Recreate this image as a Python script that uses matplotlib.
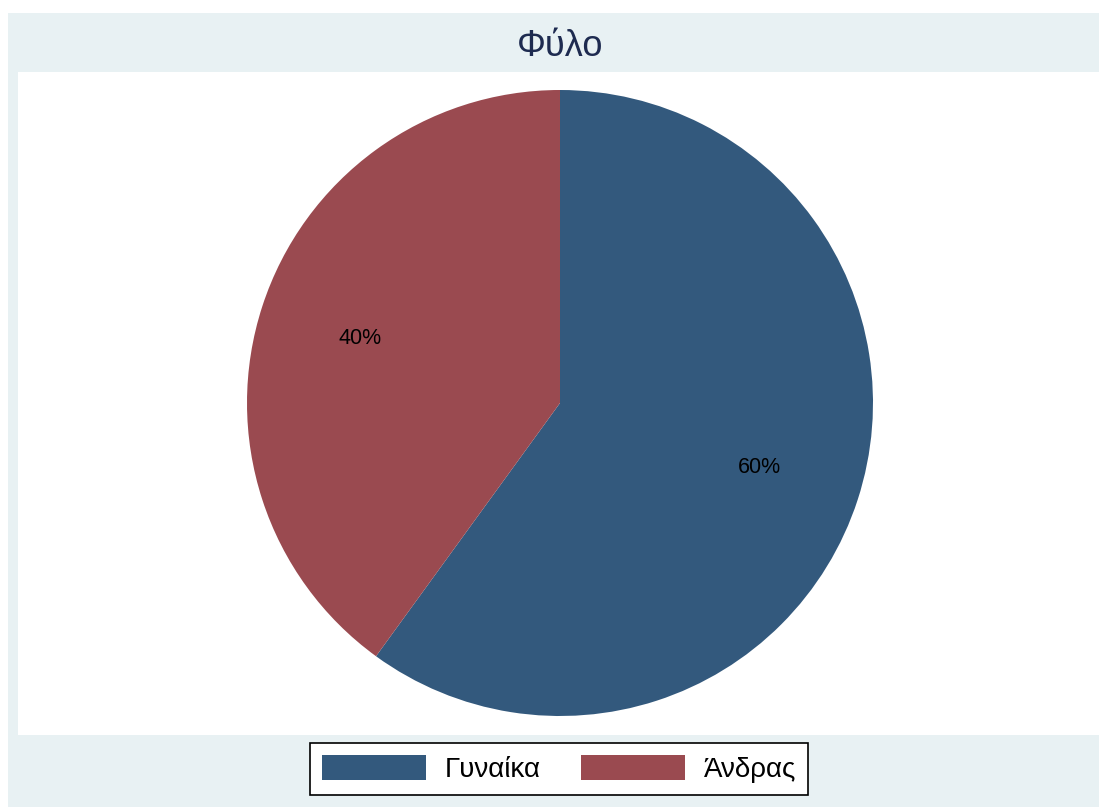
import matplotlib
matplotlib.use("Agg")
import matplotlib.pyplot as plt
from matplotlib.patches import Rectangle, Patch

# Φύλο - κατανομή δείγματος
labels = ["Γυναίκα", "Άνδρας"]
shares = [60, 40]
colors = ["#33597D", "#9A4A50"]

plt.rcParams["font.family"] = ["Liberation Sans", "DejaVu Sans"]

W, H = 1099, 807
fig = plt.figure(figsize=(W / 100, H / 100), dpi=100, facecolor="white")

# background panel + white plot region
fig.patches.append(Rectangle((8 / W, 0), 1 - 8 / W, 1 - 13 / H,
                             transform=fig.transFigure, facecolor="#E8F1F3",
                             edgecolor="none", zorder=0))
fig.patches.append(Rectangle((18 / W, (H - 735) / H), 1 - 18 / W, (735 - 72) / H,
                             transform=fig.transFigure, facecolor="white",
                             edgecolor="none", zorder=0))

fig.text(560 / W, 1 - 46 / H, "Φύλο", ha="center", va="center",
         fontsize=26, color="#1E2B50")

cx, cy, r = 560, 403, 313
ax = fig.add_axes([(cx - r) / W, (H - cy - r) / H, 2 * r / W, 2 * r / H])
ax.set_zorder(2)
ax.pie(shares, colors=colors, startangle=90, counterclock=False,
       autopct="%d%%", pctdistance=0.67, radius=1,
       wedgeprops=dict(linewidth=0),
       textprops=dict(fontsize=15.5, color="black"))
ax.set_xlim(-1, 1)
ax.set_ylim(-1, 1)
ax.set_aspect("equal")
ax.axis("off")

handles = [Patch(facecolor=c, edgecolor="none") for c in colors]
leg = fig.legend(handles, labels, loc="center", bbox_to_anchor=(559 / W, 1 - 769 / H),
                 ncol=2, fontsize=20, frameon=True, fancybox=False, framealpha=1,
                 handlelength=3.75, handleheight=1.0, handletextpad=0.68,
                 columnspacing=1.45, borderpad=0.42, borderaxespad=0)
leg.set_zorder(3)
leg.get_frame().set_edgecolor("black")
leg.get_frame().set_linewidth(1.2)

fig.savefig("out.png", dpi=100, facecolor="white")
